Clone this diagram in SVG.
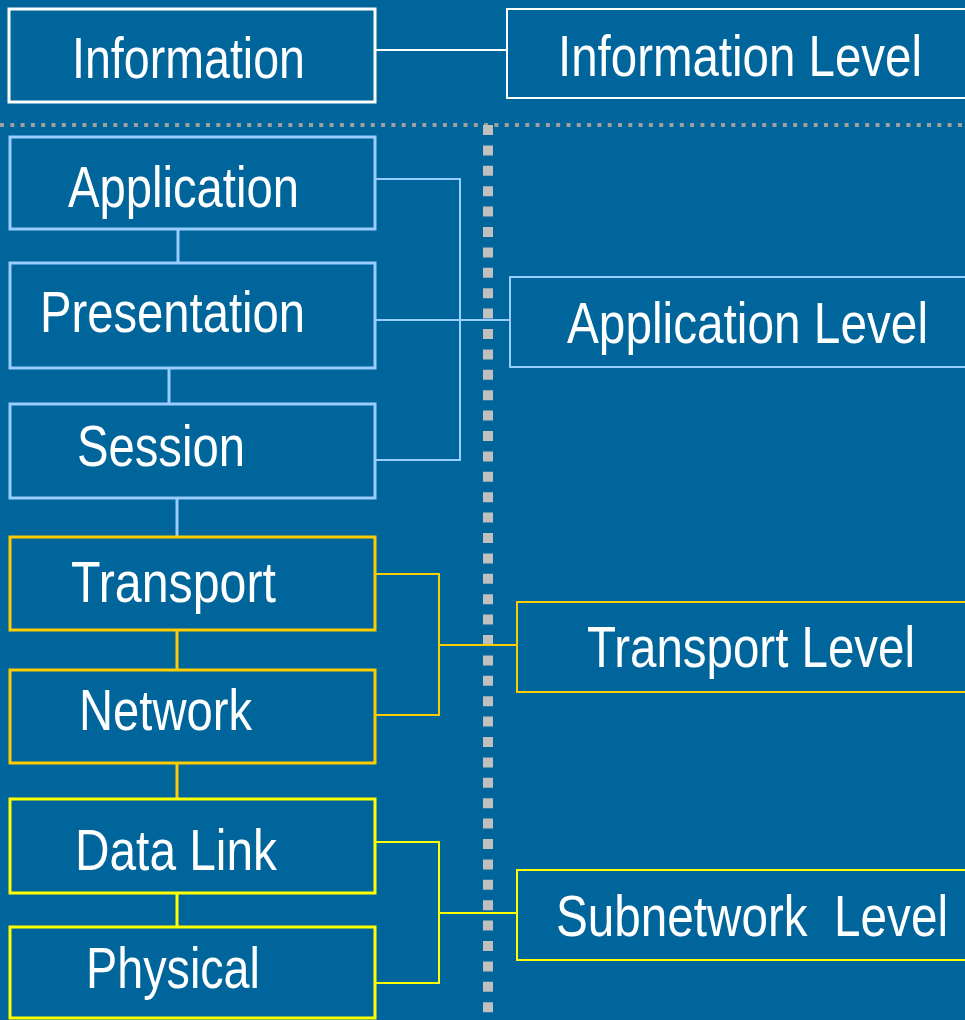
<svg xmlns="http://www.w3.org/2000/svg" width="965" height="1020" viewBox="0 0 965 1020">
<style>
.bg{fill:#00659A}
.box{fill:#00659A;stroke-width:3}
.lvl{fill:#00659A;stroke-width:2}
.w{stroke:#FFFFFF}
.b{stroke:#99CCFF}
.o{stroke:#FFCC00}
.y{stroke:#FFFF00}
.t{font-family:"Liberation Sans",Arial,sans-serif;font-size:58px;fill:#FFFFFF}
.c{fill:none;stroke-width:2}
.cv{fill:none;stroke-width:3}
</style>
<rect class="bg" x="0" y="0" width="965" height="1020"/>
<g id="separators">
<line x1="0" y1="125" x2="965" y2="125" stroke="#A0A0A0" stroke-width="4" stroke-dasharray="4 6.3"/>
<line x1="488" y1="125" x2="488" y2="1020" stroke="#C0C0C0" stroke-width="10" stroke-dasharray="10 10.4"/>
</g>
<g id="connectors">
<line class="c w" x1="375" y1="50" x2="507" y2="50"/>
<line class="cv b" x1="178" y1="229" x2="178" y2="263"/>
<line class="cv b" x1="169" y1="368" x2="169" y2="404"/>
<line class="cv b" x1="177" y1="498" x2="177" y2="537"/>
<line class="cv o" x1="177" y1="630" x2="177" y2="670"/>
<line class="cv o" x1="177" y1="763" x2="177" y2="799"/>
<line class="cv y" x1="177" y1="893" x2="177" y2="927"/>
<polyline class="c b" points="373,179 460,179 460,460 373,460"/>
<line class="c b" x1="375" y1="320" x2="510" y2="320"/>
<polyline class="c o" points="373,574 439,574 439,715 373,715"/>
<line class="c o" x1="439" y1="645" x2="517" y2="645"/>
<polyline class="c y" points="373,842 439,842 439,983 373,983"/>
<line class="c y" x1="439" y1="913" x2="517" y2="913"/>
</g>
<g id="information">
<rect class="box w" x="9" y="9" width="366" height="93"/>
<text class="t" x="72" y="78" textLength="233" lengthAdjust="spacingAndGlyphs">Information</text>
</g>
<g id="information-level">
<rect class="lvl w" x="507" y="9" width="470" height="89"/>
<text class="t" x="558" y="76" textLength="364" lengthAdjust="spacingAndGlyphs">Information Level</text>
</g>
<g id="application">
<rect class="box b" x="10" y="137" width="365" height="92"/>
<text class="t" x="68" y="207" textLength="231" lengthAdjust="spacingAndGlyphs">Application</text>
</g>
<g id="presentation">
<rect class="box b" x="10" y="263" width="365" height="105"/>
<text class="t" x="40" y="332" textLength="265" lengthAdjust="spacingAndGlyphs">Presentation</text>
</g>
<g id="session">
<rect class="box b" x="10" y="404" width="365" height="94"/>
<text class="t" x="77" y="466" textLength="168" lengthAdjust="spacingAndGlyphs">Session</text>
</g>
<g id="transport">
<rect class="box o" x="10" y="537" width="365" height="93"/>
<text class="t" x="71" y="602" textLength="205" lengthAdjust="spacingAndGlyphs">Transport</text>
</g>
<g id="network">
<rect class="box o" x="10" y="670" width="365" height="93"/>
<text class="t" x="79" y="730" textLength="173" lengthAdjust="spacingAndGlyphs">Network</text>
</g>
<g id="data-link">
<rect class="box y" x="10" y="799" width="365" height="94"/>
<text class="t" x="75" y="870" textLength="202" lengthAdjust="spacingAndGlyphs">Data Link</text>
</g>
<g id="physical">
<rect class="box y" x="10" y="927" width="365" height="91"/>
<text class="t" x="86" y="988" textLength="174" lengthAdjust="spacingAndGlyphs">Physical</text>
</g>
<g id="application-level">
<rect class="lvl b" x="510" y="277" width="470" height="90"/>
<text class="t" x="567" y="343" textLength="361" lengthAdjust="spacingAndGlyphs">Application Level</text>
</g>
<g id="transport-level">
<rect class="lvl o" x="517" y="602" width="470" height="90"/>
<text class="t" x="587" y="667" textLength="328" lengthAdjust="spacingAndGlyphs">Transport Level</text>
</g>
<g id="subnetwork-level">
<rect class="lvl y" x="517" y="870" width="470" height="90"/>
<text class="t" x="556" y="936" textLength="392" lengthAdjust="spacingAndGlyphs" xml:space="preserve">Subnetwork  Level</text>
</g>
</svg>
